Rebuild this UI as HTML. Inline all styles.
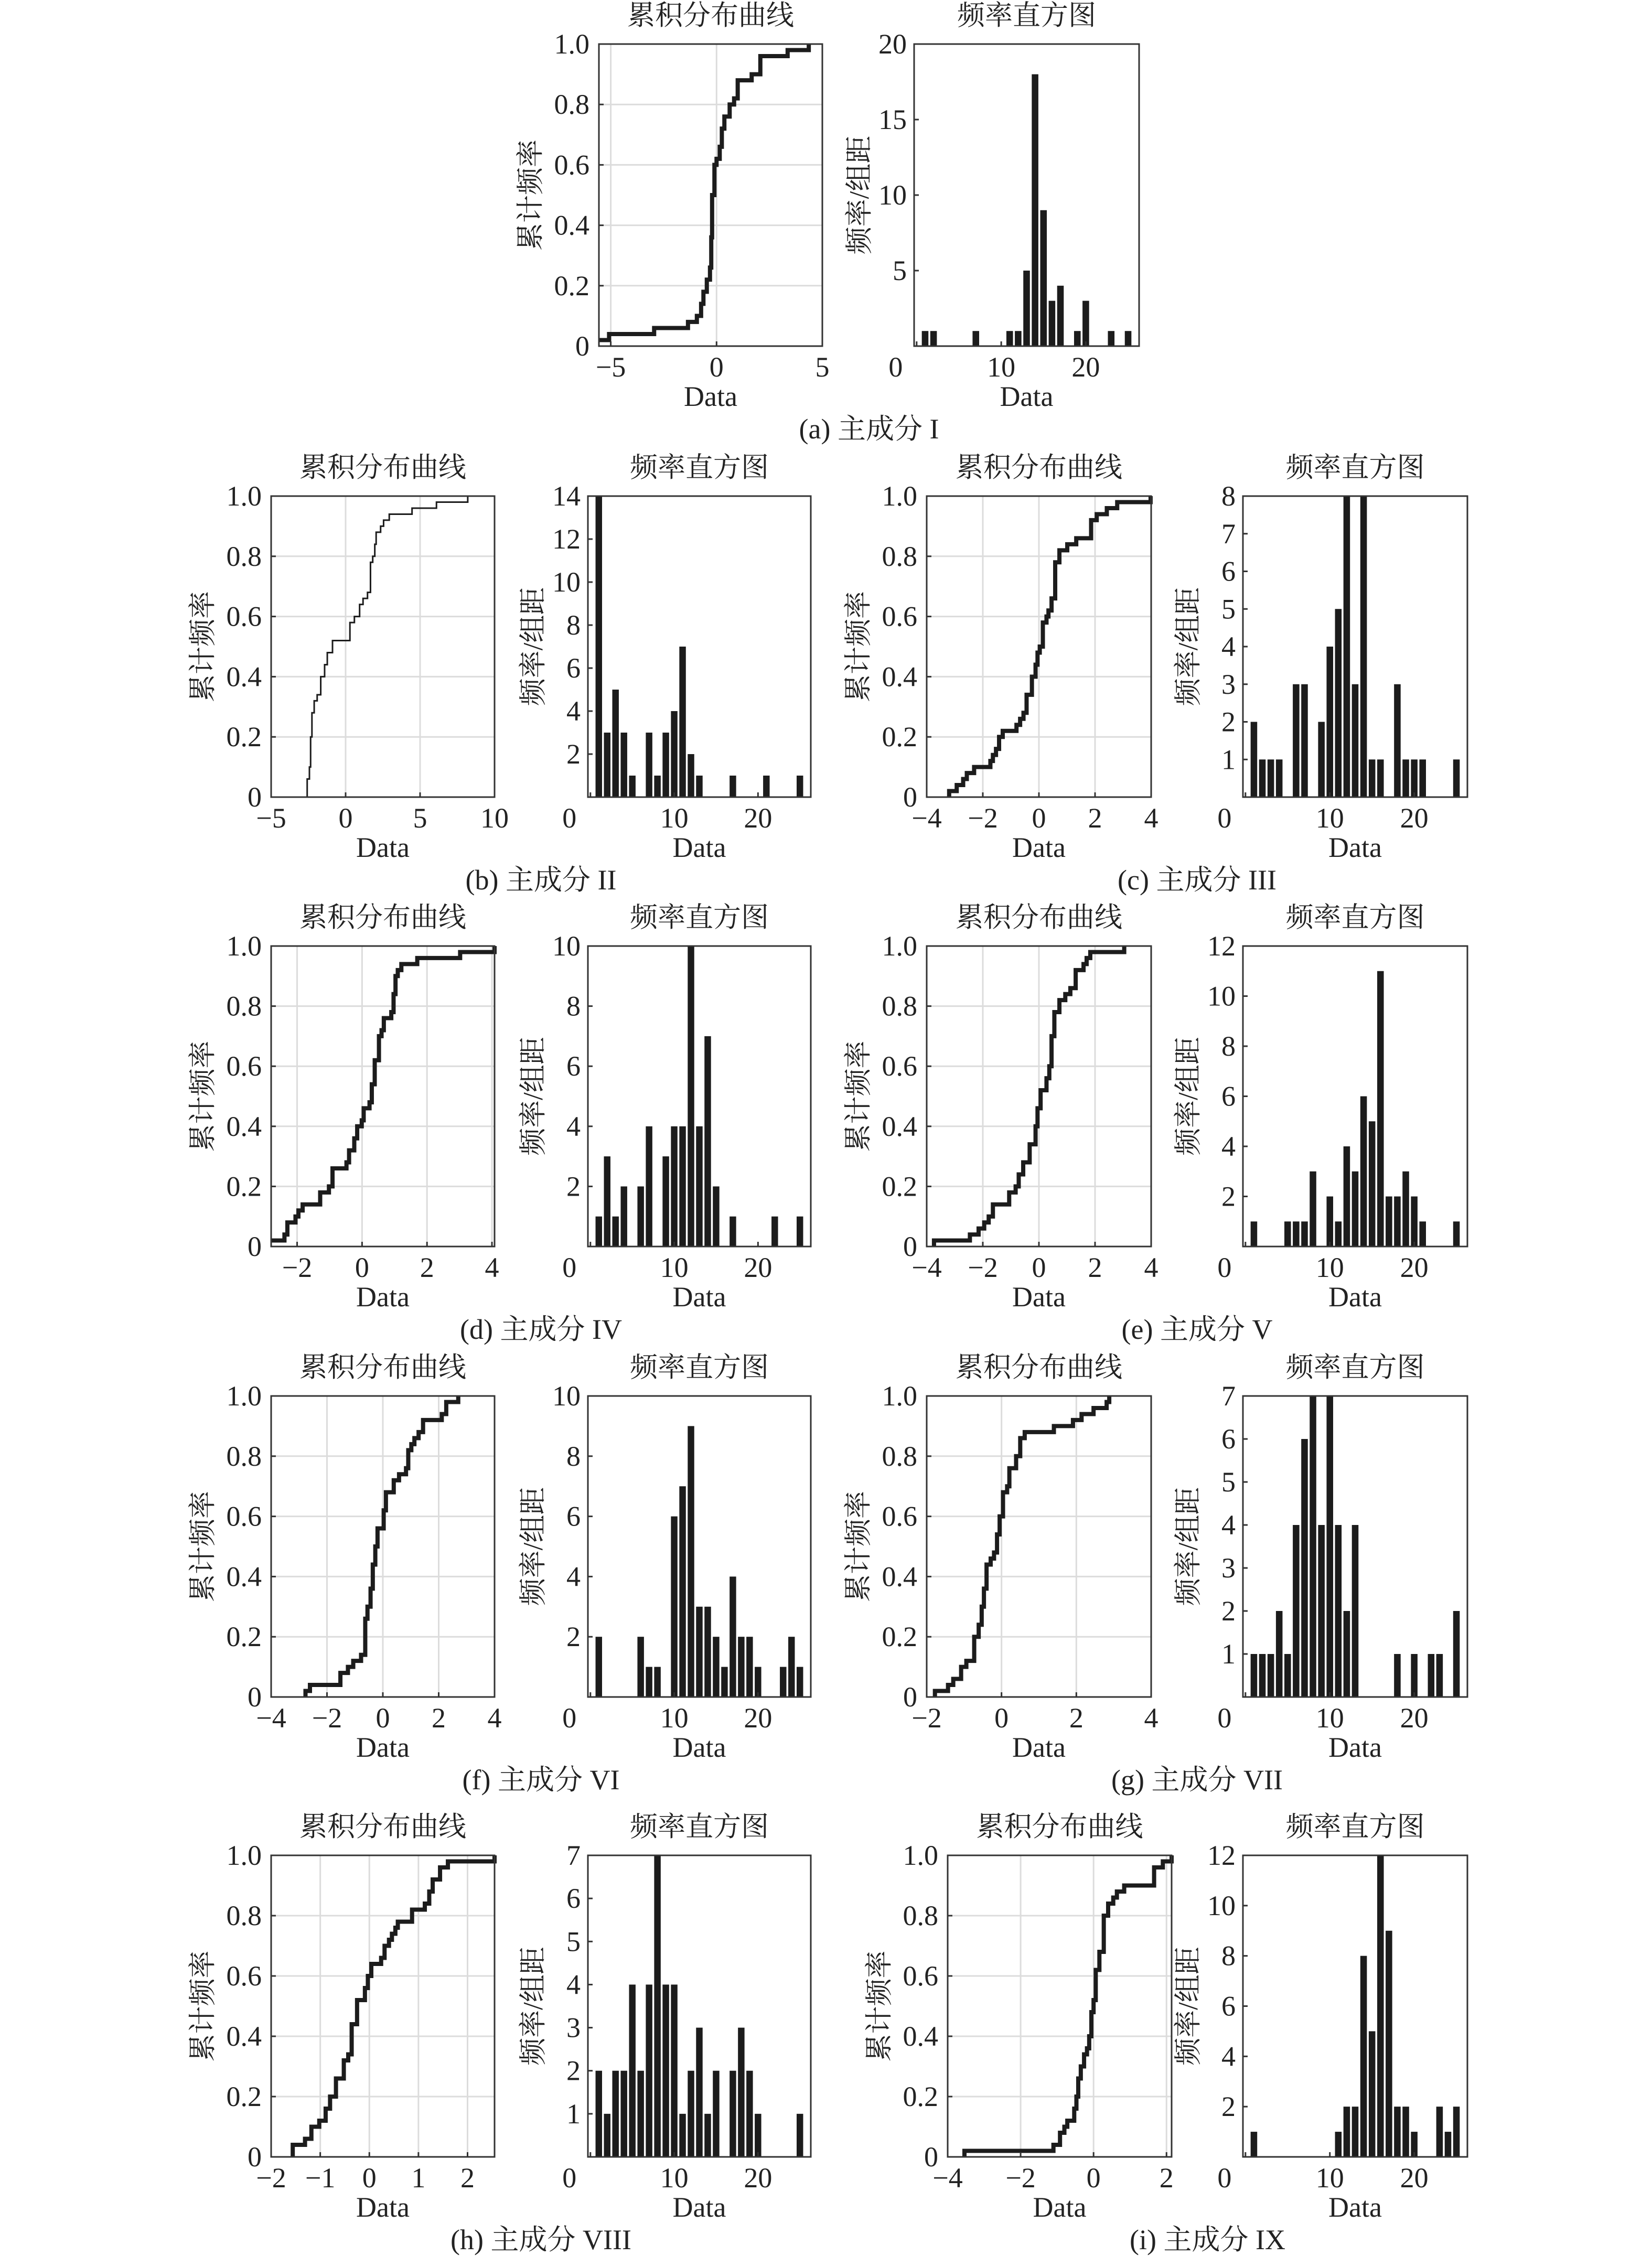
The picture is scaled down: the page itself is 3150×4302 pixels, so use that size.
<!DOCTYPE html>
<html><head><meta charset="utf-8"><title>主成分 累积分布与频率直方图</title>
<style>
html,body{margin:0;padding:0;background:#fff;}
svg{display:block;}
.num{font-family:"Liberation Serif","Noto Serif CJK SC",serif;font-size:54px;fill:#222;}
.cjk{font-family:"Liberation Serif","Noto Serif CJK SC",serif;font-size:53px;fill:#222;}
</style></head>
<body>
<svg id="fig" xmlns="http://www.w3.org/2000/svg" width="3150" height="4302" viewBox="0 0 3150 4302">
<rect x="0" y="0" width="3150" height="4302" fill="#fff"/>
</svg>
<script>
// ---------- data ----------
const cdfYTicks = [0, 0.2, 0.4, 0.6, 0.8, 1.0];
const cdfYLabels = ['0', '0.2', '0.4', '0.6', '0.8', '1.0'];
const histXTicks = [0, 10, 20];

const cdfXTicks_a = [-5, 0, 5];
const cdfXTicks_b = [-5, 0, 5, 10];
const cdfXTicks_c = [-4, -2, 0, 2, 4];
const cdfXTicks_d = [-2, 0, 2, 4];
const cdfXTicks_e = [-4, -2, 0, 2, 4];
const cdfXTicks_f = [-4, -2, 0, 2, 4];
const cdfXTicks_g = [-2, 0, 2, 4];
const cdfXTicks_h = [-2, -1, 0, 1, 2];
const cdfXTicks_i = [-4, -2, 0, 2];

const cdfLim_a = [-5.56, 5.0];
const cdfLim_b = [-5, 10];
const cdfLim_c = [-4, 4];
const cdfLim_d = [-2.8, 4.08];
const cdfLim_e = [-4, 4];
const cdfLim_f = [-4, 4];
const cdfLim_g = [-2, 4];
const cdfLim_h = [-2, 2.55];
const cdfLim_i = [-4, 2.14];

const cdfX_a = [-5.08,-2.95,-1.35,-0.93,-0.73,-0.62,-0.46,-0.31,-0.25,-0.21,-0.10,0,0.15,0.25,0.37,0.62,0.83,1.0,1.66,2.07,3.36,4.36];
const cdfY_a = [0.04,0.06,0.08,0.10,0.14,0.18,0.22,0.26,0.36,0.50,0.60,0.62,0.66,0.72,0.76,0.80,0.82,0.88,0.90,0.96,0.98,1.0];
const cdfX_b = [-2.58,-2.43,-2.35,-2.26,-2.11,-1.91,-1.67,-1.41,-1.23,-0.88,0.29,0.59,0.94,1.17,1.47,1.67,1.82,1.96,2.05,2.35,2.55,2.93,4.46,6.1,8.2];
const cdfY_b = [0.06,0.10,0.20,0.28,0.32,0.34,0.40,0.44,0.48,0.52,0.58,0.60,0.64,0.66,0.68,0.78,0.80,0.84,0.88,0.90,0.92,0.94,0.96,0.98,1.0];
const cdfX_c = [-3.2,-2.93,-2.7,-2.57,-2.31,-1.73,-1.64,-1.53,-1.42,-1.29,-0.80,-0.67,-0.55,-0.44,-0.25,-0.12,-0.05,0.03,0.14,0.27,0.34,0.45,0.58,0.73,1.01,1.33,1.86,2.06,2.42,2.79,3.98];
const cdfY_c = [0.02,0.04,0.06,0.08,0.10,0.12,0.14,0.16,0.20,0.22,0.24,0.26,0.28,0.34,0.40,0.44,0.48,0.50,0.58,0.60,0.62,0.66,0.78,0.82,0.84,0.86,0.92,0.94,0.96,0.98,1.0];
const cdfX_d = [-2.39,-2.30,-2.05,-1.96,-1.83,-1.29,-1.02,-0.91,-0.48,-0.40,-0.24,-0.15,-0.01,0.05,0.23,0.30,0.39,0.52,0.60,0.67,0.90,0.97,1.03,1.10,1.21,1.70,3.02,4.08];
const cdfY_d = [0.04,0.08,0.10,0.12,0.14,0.18,0.20,0.26,0.28,0.32,0.36,0.40,0.42,0.46,0.48,0.54,0.62,0.70,0.72,0.76,0.78,0.84,0.90,0.92,0.94,0.96,0.98,1.0];
const cdfX_e = [-3.74,-2.46,-2.15,-1.95,-1.79,-1.64,-1.06,-0.83,-0.72,-0.56,-0.33,-0.12,-0.05,0.06,0.27,0.37,0.45,0.55,0.73,0.94,1.12,1.31,1.59,1.70,1.83,3.04];
const cdfY_e = [0.02,0.04,0.06,0.08,0.10,0.14,0.18,0.20,0.24,0.28,0.34,0.40,0.46,0.52,0.56,0.60,0.70,0.78,0.82,0.84,0.86,0.92,0.94,0.96,0.98,1.0];
const cdfX_f = [-2.77,-2.61,-1.52,-1.25,-1.06,-0.78,-0.63,-0.55,-0.44,-0.36,-0.27,-0.19,0.03,0.11,0.39,0.58,0.83,0.91,1.02,1.13,1.28,1.44,2.11,2.27,2.70];
const cdfY_f = [0.02,0.04,0.08,0.10,0.12,0.14,0.26,0.30,0.36,0.44,0.50,0.56,0.62,0.68,0.72,0.74,0.76,0.82,0.84,0.86,0.88,0.92,0.94,0.98,1.0];
const cdfX_g = [-1.78,-1.43,-1.29,-1.08,-0.94,-0.73,-0.61,-0.53,-0.47,-0.40,-0.29,-0.20,-0.12,-0.05,0.04,0.15,0.21,0.39,0.50,0.62,1.40,1.91,2.14,2.46,2.81,2.88];
const cdfY_g = [0.02,0.04,0.06,0.10,0.12,0.20,0.24,0.30,0.36,0.44,0.46,0.48,0.54,0.60,0.68,0.70,0.76,0.80,0.86,0.88,0.90,0.92,0.94,0.96,0.98,1.0];
const cdfX_h = [-1.56,-1.31,-1.18,-1.02,-0.89,-0.80,-0.68,-0.52,-0.43,-0.36,-0.25,-0.09,-0.03,0.04,0.24,0.31,0.40,0.46,0.53,0.58,0.87,1.13,1.22,1.29,1.44,1.60,2.55];
const cdfY_h = [0.04,0.06,0.10,0.12,0.16,0.20,0.26,0.32,0.34,0.44,0.52,0.56,0.60,0.64,0.66,0.70,0.72,0.74,0.76,0.78,0.82,0.84,0.88,0.92,0.96,0.98,1.0];
const cdfX_i = [-3.54,-1.10,-0.92,-0.80,-0.72,-0.53,-0.47,-0.42,-0.35,-0.26,-0.18,-0.12,-0.06,0,0.06,0.16,0.28,0.40,0.54,0.64,0.84,1.66,1.90,2.14];
const cdfY_i = [0.02,0.04,0.08,0.10,0.12,0.16,0.20,0.26,0.30,0.34,0.36,0.40,0.48,0.52,0.62,0.68,0.80,0.84,0.86,0.88,0.90,0.96,0.98,1.0];

const histBins = [1,2,3,4,5,6,7,8,9,10,11,12,13,14,15,16,17,18,19,20,21,22,23,24,25];
const hist_a = [1,1,0,0,0,0,1,0,0,0,1,1,5,18,9,3,4,0,1,3,0,0,1,0,1];
const hist_b = [14,3,5,3,1,0,3,1,3,4,7,2,1,0,0,0,1,0,0,0,1,0,0,0,1];
const hist_c = [2,1,1,1,0,3,3,0,2,4,5,8,3,8,1,1,0,3,1,1,1,0,0,0,1];
const hist_d = [1,3,1,2,0,2,4,0,3,4,4,10,4,7,2,0,1,0,0,0,0,1,0,0,1];
const hist_e = [1,0,0,0,1,1,1,3,0,2,1,4,3,6,5,11,2,2,3,2,1,0,0,0,1];
const hist_f = [2,0,0,0,0,2,1,1,0,6,7,9,3,3,2,1,4,2,2,1,0,0,1,2,1];
const hist_g = [1,1,1,2,1,4,6,7,4,7,4,2,4,0,0,0,0,1,0,1,0,1,1,0,2];
const hist_h = [2,1,2,2,4,2,4,7,4,4,1,2,3,1,2,0,2,3,2,1,0,0,0,0,1];
const hist_i = [1,0,0,0,0,0,0,0,0,0,1,2,2,8,5,12,9,2,2,1,0,0,2,1,2];

const histYTicks_a = [5,10,15,20];
const histYTicks_b = [2,4,6,8,10,12,14];
const histYTicks_c = [1,2,3,4,5,6,7,8];
const histYTicks_d = [2,4,6,8,10];
const histYTicks_e = [2,4,6,8,10,12];
const histYTicks_f = [2,4,6,8,10];
const histYTicks_g = [1,2,3,4,5,6,7];
const histYTicks_h = [1,2,3,4,5,6,7];
const histYTicks_i = [2,4,6,8,10,12];

const histMax_a = 20, histMax_b = 14, histMax_c = 8, histMax_d = 10, histMax_e = 12, histMax_f = 10, histMax_g = 7, histMax_h = 7, histMax_i = 12;
const histLim = [-0.3, 26.3];

// ---------- layout ----------
const panels = [
  {id:'a', cap:'(a) 主成分 I', cx:[1142,1568], hx:[1743,2172], y:[84,660], lim:cdfLim_a, xt:cdfXTicks_a, sx:cdfX_a, sy:cdfY_a, start:0.02, lw:8, hc:hist_a, ht:histYTicks_a, hm:histMax_a},
  {id:'b', cap:'(b) 主成分 II', cx:[517,943], hx:[1121,1546], y:[946,1520], lim:cdfLim_b, xt:cdfXTicks_b, sx:cdfX_b, sy:cdfY_b, start:0, lw:3, hc:hist_b, ht:histYTicks_b, hm:histMax_b},
  {id:'c', cap:'(c) 主成分 III', cx:[1767,2195], hx:[2370,2798], y:[946,1520], lim:cdfLim_c, xt:cdfXTicks_c, sx:cdfX_c, sy:cdfY_c, start:0, lw:8, hc:hist_c, ht:histYTicks_c, hm:histMax_c},
  {id:'d', cap:'(d) 主成分 IV', cx:[517,943], hx:[1121,1546], y:[1804,2377], lim:cdfLim_d, xt:cdfXTicks_d, sx:cdfX_d, sy:cdfY_d, start:0.02, lw:8, hc:hist_d, ht:histYTicks_d, hm:histMax_d},
  {id:'e', cap:'(e) 主成分 V', cx:[1767,2195], hx:[2370,2798], y:[1804,2377], lim:cdfLim_e, xt:cdfXTicks_e, sx:cdfX_e, sy:cdfY_e, start:0, lw:8, hc:hist_e, ht:histYTicks_e, hm:histMax_e},
  {id:'f', cap:'(f) 主成分 VI', cx:[517,943], hx:[1121,1546], y:[2662,3236], lim:cdfLim_f, xt:cdfXTicks_f, sx:cdfX_f, sy:cdfY_f, start:0, lw:8, hc:hist_f, ht:histYTicks_f, hm:histMax_f},
  {id:'g', cap:'(g) 主成分 VII', cx:[1767,2195], hx:[2370,2798], y:[2662,3236], lim:cdfLim_g, xt:cdfXTicks_g, sx:cdfX_g, sy:cdfY_g, start:0, lw:8, hc:hist_g, ht:histYTicks_g, hm:histMax_g},
  {id:'h', cap:'(h) 主成分 VIII', cx:[517,943], hx:[1121,1546], y:[3538,4113], lim:cdfLim_h, xt:cdfXTicks_h, sx:cdfX_h, sy:cdfY_h, start:0, lw:8, hc:hist_h, ht:histYTicks_h, hm:histMax_h},
  {id:'i', cap:'(i) 主成分 IX', cx:[1807,2234], hx:[2370,2798], y:[3538,4113], lim:cdfLim_i, xt:cdfXTicks_i, sx:cdfX_i, sy:cdfY_i, start:0, lw:8, hc:hist_i, ht:histYTicks_i, hm:histMax_i}
];

const NS = 'http://www.w3.org/2000/svg';
const svg = document.getElementById('fig');
function mk(tag, attrs, parent, txt) {
  const e = document.createElementNS(NS, tag);
  for (const k in attrs) e.setAttribute(k, attrs[k]);
  if (txt !== undefined) e.textContent = txt;
  (parent || svg).appendChild(e);
  return e;
}
function scale(d0, d1, r0, r1) { return v => r0 + (v - d0) / (d1 - d0) * (r1 - r0); }

panels.forEach(p => {
  const g = mk('g', {});
  
  
  const top = p.y[0], bot = p.y[1];

  // ---- CDF ----
  const cg = mk('g', {}, g);
  
  
  const X = scale(p.lim[0], p.lim[1], p.cx[0], p.cx[1]);
  const Y = scale(0, 1, bot, top);
  cdfYTicks.forEach(v => {
    if (v > 0 && v < 1) {
      const l = mk('line', {x1:p.cx[0], x2:p.cx[1], y1:Y(v), y2:Y(v), stroke:'#dcdcdc', 'stroke-width':3}, cg);
      
      
    }
  });
  p.xt.forEach(v => {
    const l = mk('line', {x1:X(v), x2:X(v), y1:top, y2:bot, stroke:'#dcdcdc', 'stroke-width':3}, cg);
    
    
  });
  let d;
  if (p.start > 0) d = 'M' + X(p.lim[0]) + ',' + Y(p.start) + ' H' + X(p.sx[0]);
  else d = 'M' + X(p.sx[0]) + ',' + Y(0);
  d += ' V' + Y(p.sy[0]);
  for (let i = 1; i < p.sx.length; i++) d += ' H' + X(p.sx[i]) + ' V' + Y(p.sy[i]);
  const path = mk('path', {d:d, fill:'none', stroke:'#1c1c1c', 'stroke-width':p.lw, 'stroke-linejoin':'miter'}, cg);
  
  
  const box = mk('rect', {x:p.cx[0], y:top, width:p.cx[1]-p.cx[0], height:bot-top, fill:'none', stroke:'#333', 'stroke-width':3}, cg);
  
  
  cdfYTicks.forEach((v, i) => {
    mk('line', {x1:p.cx[0], x2:p.cx[0]+9, y1:Y(v), y2:Y(v), stroke:'#333', 'stroke-width':3}, cg);
    const t = mk('text', {x:p.cx[0]-18, y:Y(v)+18, 'text-anchor':'end', class:'num'}, cg, cdfYLabels[i]);
    
    
  });
  p.xt.forEach(v => {
    mk('line', {x1:X(v), x2:X(v), y1:bot, y2:bot-9, stroke:'#333', 'stroke-width':3}, cg);
    const t = mk('text', {x:X(v), y:bot+58, 'text-anchor':'middle', class:'num'}, cg, v < 0 ? '\u2212' + Math.abs(v) : String(v));
    
    
  });
  const ccx = (p.cx[0] + p.cx[1]) / 2;
  const ct = mk('text', {x:ccx, y:top-37, 'text-anchor':'middle', class:'cjk'}, cg, '累积分布曲线');
  
  
  const cxl = mk('text', {x:ccx, y:bot+114, 'text-anchor':'middle', class:'num'}, cg, 'Data');
  
  
  const cyl = mk('text', {transform:'translate(' + (p.cx[0]-130) + ',' + ((top+bot)/2) + ') rotate(-90)', 'text-anchor':'middle', 'dominant-baseline':'central', class:'cjk'}, cg, '累计频率');
  
  

  // ---- Histogram ----
  const hg = mk('g', {}, g);
  
  
  const HX = scale(histLim[0], histLim[1], p.hx[0], p.hx[1]);
  const HY = scale(0, p.hm, bot, top);
  const bw = (HX(1) - HX(0)) * 0.78;
  histBins.forEach((b, i) => {
    const c = p.hc[i];
    if (c > 0) {
      const r = mk('rect', {x:HX(b)-bw/2, y:HY(c), width:bw, height:HY(0)-HY(c), fill:'#1c1c1c'}, hg);
      
      
    }
  });
  const hbox = mk('rect', {x:p.hx[0], y:top, width:p.hx[1]-p.hx[0], height:bot-top, fill:'none', stroke:'#333', 'stroke-width':3}, hg);
  
  
  p.ht.forEach(v => {
    mk('line', {x1:p.hx[0], x2:p.hx[0]+9, y1:HY(v), y2:HY(v), stroke:'#333', 'stroke-width':3}, hg);
    const t = mk('text', {x:p.hx[0]-14, y:HY(v)+18, 'text-anchor':'end', class:'num'}, hg, String(v));
    
    
  });
  histXTicks.forEach(v => {
    mk('line', {x1:HX(v), x2:HX(v), y1:bot, y2:bot-9, stroke:'#333', 'stroke-width':3}, hg);
    const lx = v === 0 ? HX(v) - 40 : HX(v);
    const t = mk('text', {x:lx, y:bot+58, 'text-anchor':'middle', class:'num'}, hg, String(v));
    
    
  });
  const hcx = (p.hx[0] + p.hx[1]) / 2;
  const ht = mk('text', {x:hcx, y:top-37, 'text-anchor':'middle', class:'cjk'}, hg, '频率直方图');
  
  
  const hxl = mk('text', {x:hcx, y:bot+114, 'text-anchor':'middle', class:'num'}, hg, 'Data');
  
  
  const hyl = mk('text', {transform:'translate(' + (p.hx[0]-104) + ',' + ((top+bot)/2) + ') rotate(-90)', 'text-anchor':'middle', 'dominant-baseline':'central', class:'cjk'}, hg, '频率/组距');
  
  

  const cap = mk('text', {x:(p.cx[0]+p.hx[1])/2, y:bot+176, 'text-anchor':'middle', class:'num'}, g, p.cap);
  
  
});
</script>
</body></html>
